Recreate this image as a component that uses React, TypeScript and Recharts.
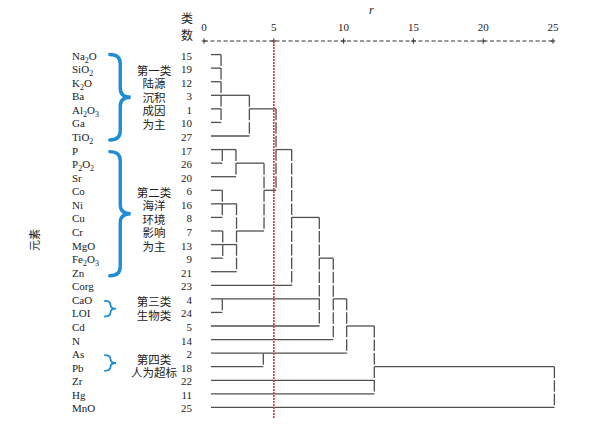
import React from 'react';
import { ComposedChart, XAxis, YAxis, Scatter, ReferenceLine, ReferenceArea, Customized } from 'recharts';

// leaves, top to bottom, as in the SPSS dendrogram
const elementNames = [
  'Na2O', 'SiO2', 'K2O', 'Ba', 'Al2O3', 'Ga', 'TiO2', 'P', 'P2O2', 'Sr', 'Co', 'Ni', 'Cu', 'Cr',
  'MgO', 'Fe2O3', 'Zn', 'Corg', 'CaO', 'LOI', 'Cd', 'N', 'As', 'Pb', 'Zr', 'Hg', 'MnO',
];
const caseNumbers = [15, 19, 12, 3, 1, 10, 27, 17, 26, 20, 6, 16, 8, 7, 13, 9, 21, 23, 4, 24, 5, 14, 2, 18, 22, 11, 25];

const distanceTicks = [0, 5, 10, 15, 20, 25];
const cutDistance = 5;
const leafStart = 0.5;

// merges: joined members (case numbers or earlier merges), rescaled distance, row the joined line leaves from
const merges = [
  { key: 'a', members: [15, 19, 12, 3, 1, 10], height: 1.22, at: 3 },
  { key: 'b', members: ['a', 27], height: 3.25, at: 1 },
  { key: 'c', members: [17, 26], height: 1.31, at: 17 },
  { key: 'd', members: ['c', 20], height: 2.29, at: 26 },
  { key: 'e', members: [6, 16, 8], height: 1.31, at: 16 },
  { key: 'f', members: [7, 13, 9], height: 1.34, at: 13 },
  { key: 'g', members: ['e', 'f', 21], height: 2.33, at: 7 },
  { key: 'h', members: ['d', 'g'], height: 4.3, at: 6 },
  { key: 'i', members: ['b', 'h'], height: 5.16, at: 17 },
  { key: 'j', members: ['i', 23], height: 6.28, at: 8 },
  { key: 'k', members: [4, 24], height: 1.31, at: 4 },
  { key: 'l', members: ['j', 'k', 5], height: 8.26, at: 9 },
  { key: 'm', members: ['l', 14], height: 9.26, at: 4 },
  { key: 'n', members: [2, 18], height: 4.25, at: 2 },
  { key: 'o', members: ['m', 'n'], height: 10.22, at: 5 },
  { key: 'p', members: ['o', 22, 11], height: 12.2, at: 18 },
  { key: 'q', members: ['p', 25], height: 25.1, at: 0 },
];

// group captions and the cases their braces cover
const groups = [
  { lines: ['第一类', '陆源', '沉积', '成因', '为主'], first: 15, last: 27, caption: 19, big: true },
  { lines: ['第二类', '海洋', '环境', '影响', '为主'], first: 17, last: 21, caption: 6, big: true },
  { lines: ['第三类', '生物类'], first: 4, last: 24, caption: 4, big: false },
  { lines: ['第四类', '人为超标'], first: 2, last: 18, caption: 2, big: false },
];

const SERIF = '"Liberation Serif", "Times New Roman", Times, serif';
const CJK = '"Noto Sans CJK SC", sans-serif';
const LINE = '#505050';
const BLUE = '#1f8dd6';

const rowOf = (id: number) => caseNumbers.indexOf(id);
const mergeByKey = new Map(merges.map(m => [m.key, m]));
const outRow = (n: number | string): number =>
  typeof n === 'number' ? rowOf(n) : rowOf(mergeByKey.get(n)!.at);
const level = (n: number | string): number =>
  typeof n === 'number' ? leafStart : mergeByKey.get(n)!.height;

const hSegs: { x1: number; x2: number; y: number }[] = [];
const vSegs: { x: number; y1: number; y2: number }[] = [];
merges.forEach(m => {
  const rows = m.members.map(outRow);
  m.members.forEach(c => hSegs.push({ x1: level(c), x2: m.height, y: outRow(c) }));
  vSegs.push({ x: m.height, y1: Math.min(...rows), y2: Math.max(...rows) });
});

const rows = caseNumbers.map((_, i) => i);
const points = caseNumbers.map((_, i) => ({ x: 0, y: i }));

const Formula = ({ name }: { name: string }) => {
  const parts = name.split(/(\d+)/).filter(Boolean);
  let sub = false;
  return (
    <>
      {parts.map((p, i) => {
        const isNum = /^\d+$/.test(p);
        const dy = isNum ? 3 : sub ? -3 : 0;
        sub = isNum;
        return (
          <tspan key={i} dy={dy} fontSize={isNum ? 8 : 11}>{p}</tspan>
        );
      })}
    </>
  );
};

const RowTick = (props: any) => {
  const { x, y, payload } = props;
  const r = payload.value as number;
  return (
    <g>
      <text x={x - 132} y={y + 5} style={{ fontFamily: SERIF, fontSize: 11 }} fill="#222">
        <Formula name={elementNames[r]} />
      </text>
      <text x={x - 12} y={y + 5} textAnchor="end" style={{ fontFamily: SERIF, fontSize: 11 }} fill="#222">
        {caseNumbers[r]}
      </text>
    </g>
  );
};

const TopTick = (props: any) => {
  const { x, y, payload } = props;
  return (
    <text x={x} y={y - 10} textAnchor="middle" style={{ fontFamily: SERIF, fontSize: 11 }} fill="#222">
      {payload.value}
    </text>
  );
};

const Brace = (props: any) => {
  const { x, y, width, height, big } = props;
  const x0 = x;
  const x1 = x + width;
  const xs = x + width * 0.5;
  const ym = y + height / 2;
  const r = big ? 9 : 4;
  const d = `M${x0},${y} Q${xs},${y} ${xs},${y + r} L${xs},${ym - r} Q${xs},${ym} ${x1},${ym} ` +
    `Q${xs},${ym} ${xs},${ym + r} L${xs},${y + height - r} Q${xs},${y + height} ${x0},${y + height}`;
  return <path d={d} fill="none" stroke={BLUE} strokeWidth={big ? 3.4 : 1.8} strokeLinecap="round" />;
};

// caption block: area spans from first to last caption row, lines spread over it
const Caption = (props: any) => {
  const { x, y, width, height, lines, shift } = props;
  const step = lines.length > 1 ? height / (lines.length - 1) : 0;
  const cx = x + width / 2;
  return (
    <text textAnchor="middle" style={{ fontFamily: CJK, fontSize: 11.5 }} fill="#222">
      {lines.map((t: string, i: number) => (
        <tspan key={i} x={cx} y={y + shift + i * step + 4.4}>{t}</tspan>
      ))}
    </text>
  );
};

const Annotations = () => (
  <g>
    <text x={369} y={14} style={{ fontFamily: SERIF, fontSize: 12, fontStyle: 'italic' }} fill="#222">r</text>
    <text textAnchor="middle" style={{ fontFamily: CJK, fontSize: 12 }} fill="#222">
      <tspan x={187} y={22.5}>类</tspan>
      <tspan x={187} y={39.5}>数</tspan>
    </text>
    <text x={35} y={244} textAnchor="middle" style={{ fontFamily: CJK, fontSize: 11 }} fill="#222"
      transform="rotate(-90 35 240)">元素</text>
  </g>
);

export default function App() {
  return (
    <div style={{ position: 'absolute', left: 0, top: 0, background: '#fff' }}>
      <ComposedChart width={608} height={434} data={points} margin={{ top: 11, right: 55, bottom: 13, left: 4 }}>
        <XAxis
          type="number"
          dataKey="x"
          orientation="top"
          domain={[0, 25]}
          ticks={distanceTicks}
          height={30}
          axisLine={false}
          tickLine={false}
          tickSize={0}
          tickMargin={0}
          tick={TopTick}
          allowDataOverflow
        />
        <YAxis
          type="number"
          dataKey="y"
          domain={[-1, 27]}
          reversed
          ticks={rows}
          interval={0}
          width={200}
          axisLine={false}
          tickLine={false}
          tickSize={0}
          tickMargin={0}
          tick={RowTick}
          allowDataOverflow
        />
        <Scatter data={points} fill="none" isAnimationActive={false} />

        {/* dashed top scale with + marks */}
        <ReferenceLine segment={[{ x: 0, y: -1 }, { x: 25, y: -1 }]} stroke="#333" strokeDasharray="4 2.5" ifOverflow="visible" />
        {distanceTicks.map(t => (
          <ReferenceLine key={`pv${t}`} segment={[{ x: t, y: -1.2 }, { x: t, y: -0.8 }]} stroke="#333" ifOverflow="visible" />
        ))}
        {distanceTicks.map(t => (
          <ReferenceLine key={`ph${t}`} segment={[{ x: t - 0.17, y: -1 }, { x: t + 0.17, y: -1 }]} stroke="#333" ifOverflow="visible" />
        ))}

        {hSegs.map((s, i) => (
          <ReferenceLine key={`h${i}`} segment={[{ x: s.x1, y: s.y }, { x: s.x2, y: s.y }]}
            stroke={LINE} strokeWidth={1.3} ifOverflow="visible" />
        ))}
        {vSegs.map((s, i) => (
          <ReferenceLine key={`v${i}`} segment={[{ x: s.x, y: s.y1 }, { x: s.x, y: s.y2 }]}
            stroke={LINE} strokeWidth={1.3} strokeDasharray="11.5 2" ifOverflow="visible" />
        ))}

        <ReferenceLine segment={[{ x: cutDistance, y: -1 }, { x: cutDistance, y: 26.8 }]}
          stroke="#e0342c" strokeWidth={1.6} strokeDasharray="2 1" ifOverflow="visible" />

        {groups.map((g, i) => (
          <ReferenceArea
            key={`b${i}`}
            x1={g.big ? -6.75 : -7.1}
            x2={g.big ? -5.25 : -6.3}
            y1={rowOf(g.first) + (g.big && i === 0 ? 0 : 0.15)}
            y2={rowOf(g.last) + 0.3}
            ifOverflow="visible"
            shape={(p: any) => <Brace {...p} big={g.big} />}
          />
        ))}
        {groups.map((g, i) => (
          <ReferenceArea
            key={`c${i}`}
            x1={-5.4}
            x2={-1.76}
            y1={rowOf(g.caption)}
            y2={rowOf(g.caption) + g.lines.length - 1}
            ifOverflow="visible"
            shape={(p: any) => <Caption {...p} lines={g.lines} shift={i === 3 ? 6 : i === 2 ? 3 : 2} />}
          />
        ))}

        <Customized component={Annotations} />
      </ComposedChart>
    </div>
  );
}
